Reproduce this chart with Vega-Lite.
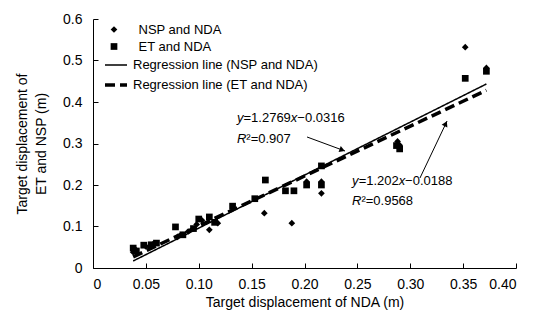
{
  "$schema": "https://vega.github.io/schema/vega-lite/v6.json",
  "width": 423,
  "height": 249,
  "autosize": {"type": "none"},
  "padding": {"left": 93, "top": 19, "right": 18, "bottom": 54},
  "background": "white",
  "config": {
    "view": {"stroke": null},
    "font": "Liberation Sans",
    "axis": {
      "domainColor": "black", "domainWidth": 1, "tickColor": "black", "tickWidth": 1,
      "labelColor": "black", "titleColor": "black", "labelFont": "Liberation Sans",
      "titleFont": "Liberation Sans", "labelFontSize": 14, "titleFontSize": 14,
      "titleFontWeight": "normal", "grid": false, "tickSize": -5
    },
    "legend": {"labelFont": "Liberation Sans", "labelFontSize": 13, "labelColor": "black", "padding": 0, "labelLimit": 0}
  },
  "datasets": {
    "points": [
      {"series": "NSP and NDA", "nda": 0.038, "val": 0.038},
      {"series": "NSP and NDA", "nda": 0.040, "val": 0.045},
      {"series": "NSP and NDA", "nda": 0.050, "val": 0.052},
      {"series": "NSP and NDA", "nda": 0.057, "val": 0.058},
      {"series": "NSP and NDA", "nda": 0.080, "val": 0.075},
      {"series": "NSP and NDA", "nda": 0.090, "val": 0.088},
      {"series": "NSP and NDA", "nda": 0.098, "val": 0.105},
      {"series": "NSP and NDA", "nda": 0.103, "val": 0.115},
      {"series": "NSP and NDA", "nda": 0.110, "val": 0.092},
      {"series": "NSP and NDA", "nda": 0.118, "val": 0.108},
      {"series": "NSP and NDA", "nda": 0.162, "val": 0.132},
      {"series": "NSP and NDA", "nda": 0.188, "val": 0.108},
      {"series": "NSP and NDA", "nda": 0.202, "val": 0.208},
      {"series": "NSP and NDA", "nda": 0.216, "val": 0.208},
      {"series": "NSP and NDA", "nda": 0.216, "val": 0.180},
      {"series": "NSP and NDA", "nda": 0.288, "val": 0.305},
      {"series": "NSP and NDA", "nda": 0.290, "val": 0.296},
      {"series": "NSP and NDA", "nda": 0.352, "val": 0.532},
      {"series": "NSP and NDA", "nda": 0.372, "val": 0.482},
      {"series": "ET and NDA", "nda": 0.038, "val": 0.048},
      {"series": "ET and NDA", "nda": 0.041, "val": 0.041},
      {"series": "ET and NDA", "nda": 0.048, "val": 0.055},
      {"series": "ET and NDA", "nda": 0.055, "val": 0.056},
      {"series": "ET and NDA", "nda": 0.060, "val": 0.060},
      {"series": "ET and NDA", "nda": 0.078, "val": 0.099},
      {"series": "ET and NDA", "nda": 0.085, "val": 0.080},
      {"series": "ET and NDA", "nda": 0.095, "val": 0.095},
      {"series": "ET and NDA", "nda": 0.100, "val": 0.118},
      {"series": "ET and NDA", "nda": 0.110, "val": 0.123},
      {"series": "ET and NDA", "nda": 0.115, "val": 0.110},
      {"series": "ET and NDA", "nda": 0.132, "val": 0.149},
      {"series": "ET and NDA", "nda": 0.153, "val": 0.167},
      {"series": "ET and NDA", "nda": 0.163, "val": 0.212},
      {"series": "ET and NDA", "nda": 0.182, "val": 0.186},
      {"series": "ET and NDA", "nda": 0.190, "val": 0.186},
      {"series": "ET and NDA", "nda": 0.202, "val": 0.200},
      {"series": "ET and NDA", "nda": 0.216, "val": 0.200},
      {"series": "ET and NDA", "nda": 0.216, "val": 0.246},
      {"series": "ET and NDA", "nda": 0.287, "val": 0.295},
      {"series": "ET and NDA", "nda": 0.290, "val": 0.287},
      {"series": "ET and NDA", "nda": 0.352, "val": 0.457},
      {"series": "ET and NDA", "nda": 0.372, "val": 0.474}
    ],
    "lines": [
      {"line": "Regression line (NSP and NDA)", "nda": 0.038, "val": 0.0169},
      {"line": "Regression line (NSP and NDA)", "nda": 0.372, "val": 0.4434},
      {"line": "Regression line (ET and NDA)", "nda": 0.038, "val": 0.0269},
      {"line": "Regression line (ET and NDA)", "nda": 0.372, "val": 0.4283}
    ],
    "eqtext": [
      {"kind": "var", "text": "y", "nda": 0.1362, "val": 0.3614},
      {"kind": "num", "text": "=1.2769", "nda": 0.1423, "val": 0.3614},
      {"kind": "var", "text": "x", "nda": 0.1870, "val": 0.3614},
      {"kind": "num", "text": "−0.0316", "nda": 0.1932, "val": 0.3614},
      {"kind": "var", "text": "R", "nda": 0.1362, "val": 0.3108},
      {"kind": "num", "text": "²=0.907", "nda": 0.1450, "val": 0.3108},
      {"kind": "var", "text": "y", "nda": 0.2449, "val": 0.2096},
      {"kind": "num", "text": "=1.202", "nda": 0.2512, "val": 0.2096},
      {"kind": "var", "text": "x", "nda": 0.2891, "val": 0.2096},
      {"kind": "num", "text": "−0.0188", "nda": 0.2951, "val": 0.2096},
      {"kind": "var", "text": "R", "nda": 0.2449, "val": 0.1614},
      {"kind": "num", "text": "²=0.9568", "nda": 0.2538, "val": 0.1614}
    ],
    "arrows": [
      {"id": "a1", "x1": 0.2024, "y1": 0.3157, "x2": 0.2383, "y2": 0.2819, "hx": 0.2357, "hy": 0.2843},
      {"id": "a2", "x1": 0.3092, "y1": 0.2169, "x2": 0.3348, "y2": 0.3542, "hx": 0.3335, "hy": 0.3477}
    ]
  },
  "layer": [
    {
      "data": {"name": "lines"},
      "mark": {"type": "line", "color": "black"},
      "encoding": {
        "x": {
          "field": "nda", "type": "quantitative",
          "scale": {"domain": [0, 0.4], "nice": false},
          "axis": {
            "values": [0, 0.05, 0.1, 0.15, 0.2, 0.25, 0.3, 0.35, 0.4],
            "labelExpr": "datum.value === 0 ? '0' : format(datum.value, '.2f')",
            "labelPadding": 14, "title": "Target displacement of NDA (m)", "titlePadding": 4
          }
        },
        "y": {
          "field": "val", "type": "quantitative",
          "scale": {"domain": [0, 0.6], "nice": false},
          "axis": {
            "values": [0, 0.1, 0.2, 0.3, 0.4, 0.5, 0.6],
            "labelExpr": "datum.value === 0 ? '0' : format(datum.value, '.1f')",
            "labelPadding": 16, "title": ["Target displacement of", "ET and NSP (m)"],
            "titlePadding": 14, "titleLineHeight": 19
          }
        },
        "strokeDash": {
          "field": "line", "type": "nominal",
          "scale": {"domain": ["Regression line (NSP and NDA)", "Regression line (ET and NDA)"], "range": [[1, 0], [10, 5]]},
          "legend": {
            "orient": "none", "legendX": 10, "legendY": 34, "title": null, "symbolType": "stroke", "symbolSize": 484,
            "symbolStrokeColor": "black", "labelOffset": 4, "rowPadding": -6,
            "encode": {"symbols": {"update": {"strokeDash": [{"test": "datum.value === 'Regression line (ET and NDA)'", "value": [14, 30]}, {"value": [1, 0]}]}}}
          }
        },
        "strokeWidth": {
          "field": "line", "type": "ordinal",
          "scale": {"domain": ["Regression line (NSP and NDA)", "Regression line (ET and NDA)"], "range": [1.5, 3.5]},
          "legend": {
            "orient": "none", "legendX": 10, "legendY": 34, "title": null, "symbolType": "stroke", "symbolSize": 484,
            "symbolStrokeColor": "black", "labelOffset": 4, "rowPadding": -6,
            "encode": {"symbols": {"update": {"strokeDash": [{"test": "datum.value === 'Regression line (ET and NDA)'", "value": [14, 30]}, {"value": [1, 0]}]}}}
          }
        }
      }
    },
    {
      "data": {"name": "points"},
      "mark": {"type": "point", "filled": true, "opacity": 1, "color": "black", "size": 45},
      "encoding": {
        "x": {"field": "nda", "type": "quantitative"},
        "y": {"field": "val", "type": "quantitative"},
        "shape": {
          "field": "series", "type": "nominal",
          "scale": {"domain": ["NSP and NDA", "ET and NDA"], "range": ["diamond", "square"]},
          "legend": {"orient": "none", "legendX": 14.5, "legendY": 4, "title": null, "symbolFillColor": "black", "symbolStrokeColor": "black", "symbolSize": 45, "labelOffset": 18, "rowPadding": 3}
        }
      }
    },
    {
      "data": {"name": "arrows"},
      "mark": {"type": "rule", "color": "black", "strokeWidth": 1},
      "encoding": {
        "x": {"field": "x1", "type": "quantitative"},
        "y": {"field": "y1", "type": "quantitative"},
        "x2": {"field": "x2"},
        "y2": {"field": "y2"}
      }
    },
    {
      "data": {"name": "arrows"},
      "transform": [{"filter": "datum.id === 'a1'"}],
      "mark": {"type": "point", "shape": "triangle-up", "filled": true, "color": "black", "opacity": 1, "size": 40, "angle": 110},
      "encoding": {
        "x": {"field": "hx", "type": "quantitative"},
        "y": {"field": "hy", "type": "quantitative"}
      }
    },
    {
      "data": {"name": "arrows"},
      "transform": [{"filter": "datum.id === 'a2'"}],
      "mark": {"type": "point", "shape": "triangle-up", "filled": true, "color": "black", "opacity": 1, "size": 40, "angle": 25},
      "encoding": {
        "x": {"field": "hx", "type": "quantitative"},
        "y": {"field": "hy", "type": "quantitative"}
      }
    },
    {
      "data": {"name": "eqtext"},
      "transform": [{"filter": "datum.kind === 'var'"}],
      "mark": {"type": "text", "align": "left", "baseline": "middle", "fontSize": 13, "fontStyle": "italic", "color": "black", "font": "Liberation Sans"},
      "encoding": {
        "x": {"field": "nda", "type": "quantitative"},
        "y": {"field": "val", "type": "quantitative"},
        "text": {"field": "text"}
      }
    },
    {
      "data": {"name": "eqtext"},
      "transform": [{"filter": "datum.kind === 'num'"}],
      "mark": {"type": "text", "align": "left", "baseline": "middle", "fontSize": 13, "color": "black", "font": "Liberation Sans"},
      "encoding": {
        "x": {"field": "nda", "type": "quantitative"},
        "y": {"field": "val", "type": "quantitative"},
        "text": {"field": "text"}
      }
    }
  ]
}
